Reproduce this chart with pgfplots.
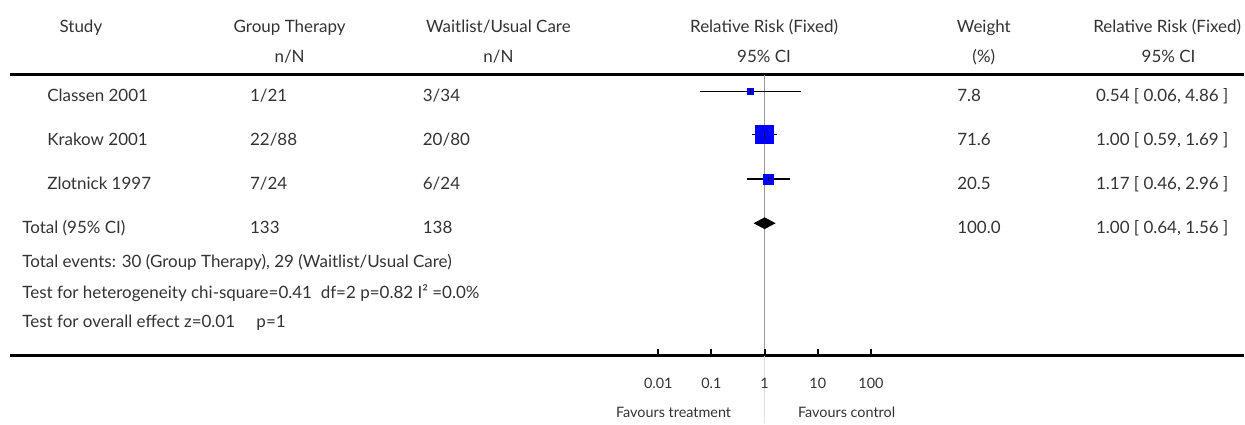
\documentclass[border=0pt]{standalone}
\usepackage{pgfplots}
\pgfplotsset{compat=1.18}
\usepackage{fontspec}
\setmainfont{Lato}
\definecolor{txt}{HTML}{333333}
\definecolor{boxblue}{HTML}{0000FF}
\begin{document}
\begin{tikzpicture}[font=\fontsize{8.5}{10}\selectfont]
% canvas axis: coordinates in pixels of the reference (1 px = 0.5 pt)
\begin{axis}[at={(0,0)}, anchor=south west, width=622.5pt, height=211.5pt,
  scale only axis, xmin=0, xmax=1245, ymin=0, ymax=423, y dir=reverse,
  hide axis, clip=false]
\addplot[draw=none] coordinates {(0,0) (1245,423)};
% rules
\addplot[black, line width=1.5pt] coordinates {(10,75) (1245,75)};
\addplot[black, line width=1.5pt] coordinates {(10,356) (1245,356)};
% header
\begin{scope}[every node/.style={text=txt, anchor=base}]
\node at (axis cs:81,33) {Study};
\node at (axis cs:290,33) {Group Therapy};
\node at (axis cs:290,63) {n/N};
\node at (axis cs:499,33) {Waitlist/Usual Care};
\node at (axis cs:499,63) {n/N};
\node at (axis cs:765,33) {Relative Risk (Fixed)};
\node at (axis cs:765,63) {95\% CI};
\node at (axis cs:985,33) {Weight};
\node at (axis cs:985,63) {(\%)};
\node[anchor=base east, inner sep=0pt] at (axis cs:1243,33) {Relative Risk (Fixed)};
\node at (axis cs:1170,63) {95\% CI};
\end{scope}
\begin{scope}[every node/.style={text=txt, anchor=base west, inner sep=0pt}]
\node at (axis cs:47,102) {Classen 2001};
\node at (axis cs:250,102) {1/21};
\node at (axis cs:423,102) {3/34};
\node at (axis cs:958,102) {7.8};
\node at (axis cs:1097,102) {0.54 [ 0.06, 4.86 ]};
\node at (axis cs:47,146) {Krakow 2001};
\node at (axis cs:250,146) {22/88};
\node at (axis cs:423,146) {20/80};
\node at (axis cs:958,146) {71.6};
\node at (axis cs:1097,146) {1.00 [ 0.59, 1.69 ]};
\node at (axis cs:47,190) {Zlotnick 1997};
\node at (axis cs:250,190) {7/24};
\node at (axis cs:423,190) {6/24};
\node at (axis cs:958,190) {20.5};
\node at (axis cs:1097,190) {1.17 [ 0.46, 2.96 ]};
\node at (axis cs:22,234) {Total (95\% CI)};
\node at (axis cs:250,234) {133};
\node at (axis cs:423,234) {138};
\node at (axis cs:958,234) {100.0};
\node at (axis cs:1097,234) {1.00 [ 0.64, 1.56 ]};
\node at (axis cs:22,268) {Total events: 30 (Group Therapy), 29 (Waitlist/Usual Care)};
\node at (axis cs:22,299) {Test for heterogeneity chi-square=0.41 \ df=2 p=0.82 I² =0.0\%};
\node at (axis cs:22,328) {Test for overall effect z=0.01 \quad p=1};
\end{scope}
\begin{scope}[every node/.style={text=txt, anchor=base, font=\fontsize{7.2}{8}\selectfont}]
\node[anchor=base east] at (axis cs:739,418) {Favours treatment};
\node[anchor=base west] at (axis cs:792,418) {Favours control};
\end{scope}
\end{axis}
% forest axis: same frame, log x, 1 at px 765.5, 53.25 px per decade
\begin{axis}[at={(0,0)}, anchor=south west, width=622.5pt, height=211.5pt,
  scale only axis, xmode=log, xmin=4.2e-15, xmax=1.01e9, ymin=0, ymax=423,
  y dir=reverse, hide axis, clip=false]
\addplot[black!40, line width=0.5pt] coordinates {(1,75) (1,356)};
\addplot[black!12, line width=0.5pt] coordinates {(1,356) (1,423)};
\pgfplotsinvokeforeach{0.01,0.1,1,10,100}{
  \addplot[black, line width=1pt] coordinates {(#1,349) (#1,356)};
  \node[text=txt, anchor=base, font=\fontsize{7.2}{8}\selectfont] at (axis cs:#1,389) {#1};
}
% study boxes
\addplot[only marks, mark=square*, mark size=1.5pt, boxblue, mark options={draw=boxblue, fill=boxblue}] coordinates {(0.54,91.3)};
\addplot[only marks, mark=square*, mark size=4.5pt, boxblue, mark options={draw=boxblue, fill=boxblue}] coordinates {(1.00,135)};
\addplot[only marks, mark=square*, mark size=2.5pt, boxblue, mark options={draw=boxblue, fill=boxblue}] coordinates {(1.17,179.3)};
% confidence intervals
\addplot[black, line width=0.6pt] coordinates {(0.06,91.3) (4.86,91.3)};
\addplot[black, line width=0.6pt] coordinates {(0.59,135) (1.69,135)};
\addplot[black, line width=0.6pt] coordinates {(0.46,179.3) (2.96,179.3)};
\addplot[only marks, mark=|, mark size=1.2pt, black, mark options={line width=0.5pt}] coordinates {(0.54,91.3) (1.00,135) (1.17,179.3)};
% pooled diamond
\addplot[fill=black, draw=black, line width=0.3pt] coordinates {(0.64,223.5) (1,218) (1.56,223.5) (1,229)} -- cycle;
\end{axis}
\end{tikzpicture}
\end{document}
